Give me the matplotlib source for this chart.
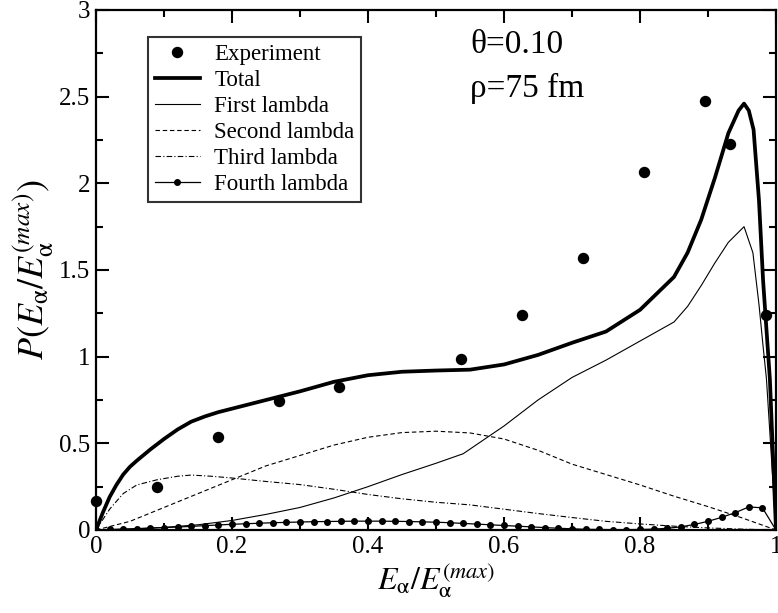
import numpy as np
import matplotlib
matplotlib.use('Agg')
import matplotlib.pyplot as plt
from matplotlib.ticker import MultipleLocator

plt.rcParams['font.family'] = ['Liberation Serif', 'DejaVu Serif']
plt.rcParams['mathtext.fontset'] = 'stix'

# measured spectrum
exp_x = [0.0, 0.089, 0.179, 0.269, 0.358, 0.537, 0.626, 0.716, 0.806, 0.896, 0.932, 0.985]
exp_y = [0.167, 0.248, 0.537, 0.744, 0.825, 0.988, 1.239, 1.568, 2.064, 2.475, 2.227, 1.239]

# summed calculation
total_x = [0.0, 0.01, 0.02, 0.03, 0.04, 0.05, 0.06, 0.08, 0.10, 0.12, 0.14, 0.16, 0.18,
           0.20, 0.25, 0.30, 0.35, 0.40, 0.45, 0.50, 0.55, 0.60, 0.65, 0.70, 0.75,
           0.80, 0.85, 0.87, 0.89, 0.91, 0.93, 0.945, 0.953, 0.96, 0.967, 0.975,
           0.981, 0.991, 1.0]
total_y = [0.0, 0.10, 0.19, 0.26, 0.32, 0.365, 0.40, 0.465, 0.525, 0.58, 0.625, 0.655, 0.68,
           0.70, 0.75, 0.80, 0.855, 0.893, 0.913, 0.92, 0.925, 0.955, 1.01, 1.08, 1.145,
           1.27, 1.46, 1.60, 1.79, 2.03, 2.29, 2.42, 2.46, 2.42, 2.31, 1.90,
           1.44, 0.87, 0.0]

# first lambda
l1_x = [0.0, 0.05, 0.10, 0.15, 0.20, 0.25, 0.30, 0.35, 0.40, 0.45, 0.50, 0.54, 0.60,
        0.65, 0.70, 0.75, 0.80, 0.85, 0.87, 0.89, 0.91, 0.93, 0.953, 0.966, 0.975,
        0.981, 0.986, 1.0]
l1_y = [0.0, 0.005, 0.015, 0.03, 0.055, 0.09, 0.13, 0.185, 0.25, 0.32, 0.385, 0.44, 0.60,
        0.75, 0.88, 0.98, 1.09, 1.20, 1.29, 1.41, 1.54, 1.66, 1.75, 1.60, 1.30,
        1.06, 0.87, 0.0]

# second lambda
l2_x = [0.0, 0.05, 0.10, 0.15, 0.20, 0.25, 0.30, 0.35, 0.40, 0.45, 0.50, 0.55, 0.60,
        0.65, 0.70, 0.75, 0.80, 0.85, 0.90, 0.95, 1.0]
l2_y = [0.0, 0.05, 0.13, 0.21, 0.29, 0.37, 0.43, 0.49, 0.535, 0.562, 0.57, 0.56, 0.525,
        0.46, 0.38, 0.32, 0.26, 0.195, 0.135, 0.07, 0.0]

# third lambda
l3_x = [0.0, 0.02, 0.04, 0.06, 0.09, 0.12, 0.14, 0.17, 0.20, 0.25, 0.30, 0.35, 0.40,
        0.45, 0.50, 0.55, 0.60, 0.65, 0.70, 0.75, 0.80, 0.85, 0.90, 0.95, 1.0]
l3_y = [0.0, 0.12, 0.21, 0.26, 0.29, 0.31, 0.317, 0.31, 0.30, 0.28, 0.262, 0.235, 0.205,
        0.18, 0.16, 0.145, 0.12, 0.095, 0.072, 0.05, 0.035, 0.022, 0.012, 0.005, 0.0]

# fourth lambda, one value every 0.02
l4_x = np.round(np.arange(0, 51) * 0.02, 2)
l4_y = [0.0, 0.003, 0.005, 0.008, 0.011, 0.014, 0.017, 0.021, 0.025, 0.029,
        0.033, 0.036, 0.039, 0.042, 0.044, 0.046, 0.048, 0.049, 0.050, 0.051,
        0.051, 0.051, 0.050, 0.049, 0.047, 0.045, 0.042, 0.038, 0.034, 0.030,
        0.026, 0.022, 0.018, 0.014, 0.010, 0.007, 0.004, 0.003, 0.002, 0.002,
        0.003, 0.005, 0.010, 0.018, 0.032, 0.050, 0.073, 0.100, 0.133, 0.128,
        0.0]

fig = plt.figure(figsize=(7.78, 6.13), dpi=100)
ax = fig.add_axes([96 / 778, 83 / 613, 680 / 778, 520 / 613])

ax.plot(exp_x, exp_y, 'o', color='black', ms=7.2, label='Experiment', clip_on=False, zorder=5)
ax.plot(total_x, total_y, '-', color='black', lw=2.7, label='Total')
ax.plot(l1_x, l1_y, '-', color='black', lw=0.8, label='First lambda')
ax.plot(l2_x, l2_y, '--', color='black', lw=0.8, dashes=(4, 2.5), label='Second lambda')
ax.plot(l3_x, l3_y, '-.', color='black', lw=0.8, dashes=(5, 2, 1, 2), label='Third lambda')
ax.plot(l4_x, l4_y, '-', color='black', lw=0.9, marker='o', ms=4, label='Fourth lambda')

ax.set_xlim(0, 1)
ax.set_ylim(0, 3)
ax.xaxis.set_major_locator(MultipleLocator(0.2))
ax.xaxis.set_minor_locator(MultipleLocator(0.1))
ax.yaxis.set_major_locator(MultipleLocator(0.5))
ax.yaxis.set_minor_locator(MultipleLocator(0.25))
ax.xaxis.set_major_formatter(matplotlib.ticker.FuncFormatter(lambda v, p: '%g' % v))
ax.yaxis.set_major_formatter(matplotlib.ticker.FuncFormatter(lambda v, p: '%g' % v))
ax.tick_params(which='both', direction='in', top=True, right=True, width=1.5, labelsize=18)
ax.tick_params(which='major', length=9.5, pad=4)
ax.tick_params(which='minor', length=4.7)
for s in ax.spines.values():
    s.set_linewidth(1.6)

ax.set_xlabel(r'$E_{\mathrm{\alpha}}/E_{\mathrm{\alpha}}^{(max)}$', fontsize=23, labelpad=2)
ax.set_ylabel(r'$P(E_{\mathrm{\alpha}}/E_{\mathrm{\alpha}}^{(max)})$', fontsize=26, labelpad=2)

ax.text(0.55, 2.8, 'θ=0.10', fontsize=24, va='center', ha='left')
ax.text(0.55, 2.55, 'ρ=75 fm', fontsize=24, va='center', ha='left')

leg = ax.legend(loc='upper left', bbox_to_anchor=(0.076, 0.948), borderaxespad=0,
                fontsize=16.5, frameon=True, fancybox=False, edgecolor='black',
                handlelength=2.0, handletextpad=0.6, labelspacing=0.22,
                borderpad=0.3, markerscale=1.0)
leg.get_frame().set_linewidth(1.5)

fig.savefig('out.png', dpi=100)
